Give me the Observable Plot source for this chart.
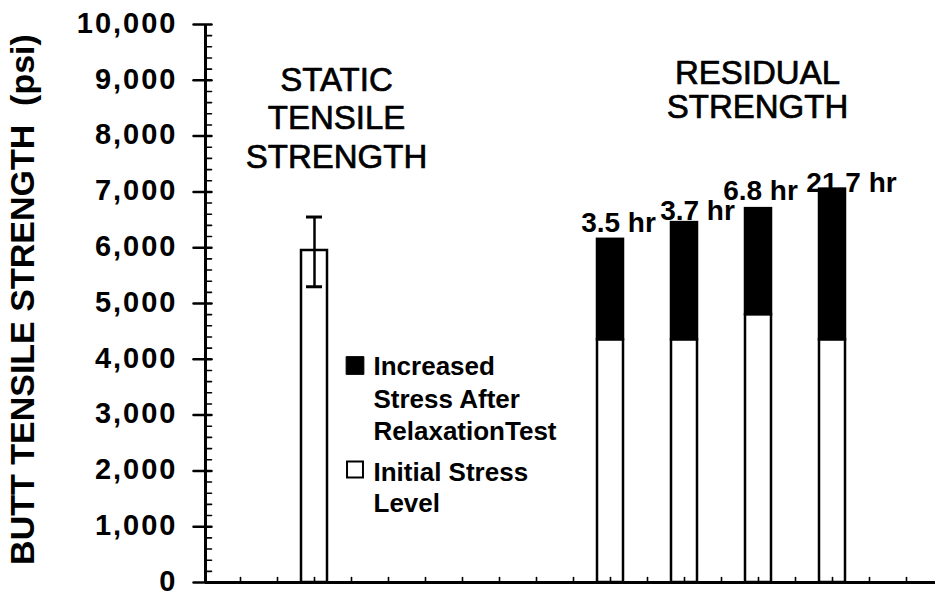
<!DOCTYPE html>
<html><head><meta charset="utf-8">
<script src="https://cdn.jsdelivr.net/npm/d3@7"></script>
<script src="https://cdn.jsdelivr.net/npm/@observablehq/plot@0.6"></script>
<style>
html,body{margin:0;padding:0;background:#fff;overflow:hidden}
#chart svg{display:block}
#chart svg g[aria-label="y-axis tick label"] text{letter-spacing:2px}
</style></head><body><div id="chart"></div>
<script>
// ---- data ----
const categories = ["blank0", "Static", "blank2", "blank3", "blank4", "3.5 hr", "3.7 hr", "6.8 hr", "21.7 hr", "blank9"];
const staticCategory = ["Static"];
const staticMean = [5950];
const staticLow = [5300];
const staticHigh = [6550];
const residualLabels = ["3.5 hr", "3.7 hr", "6.8 hr", "21.7 hr"];
const initialStress = [4350, 4350, 4800, 4350];
const totalStress = [6150, 6450, 6700, 7050];
const yTickValues = [0, 1000, 2000, 3000, 4000, 5000, 6000, 7000, 8000, 9000, 10000];
const headings = ["STATIC\nTENSILE\nSTRENGTH", "RESIDUAL\nSTRENGTH"];
const legendLabels = ["Increased\nStress After\nRelaxationTest", "Initial Stress\nLevel"];
const yLabel = "BUTT TENSILE STRENGTH\u00a0 (psi)";

// ---- tables built from the arrays ----
const residual = residualLabels.map((c, i) => ({cat: c, initial: initialStress[i], total: totalStress[i]}));
const staticRows = staticCategory.map((c, i) => ({cat: c, mean: staticMean[i], low: staticLow[i], high: staticHigh[i]}));
const staticCaps = staticRows.flatMap(d => [{cat: d.cat, v: d.low}, {cat: d.cat, v: d.high}]);
const yMinor = d3.range(0, 10001, 200).filter(v => v % 1000 !== 0);

// ---- layout ----
const W = 935, H = 594;
const mLeft = 205, mTop = 24, mBottom = 12;
const xRange = [203, 943];
const step = (xRange[1] - xRange[0]) / categories.length;
const font = "Liberation Sans, Arial, Helvetica, sans-serif";
const tickShape = {draw(context, l) { context.moveTo(0, 0); context.lineTo(0, -l); }};
// per-label nudges of the duration labels (pixels)
const labelNudge = [[8, -7], [13, -3], [2, -9], [19, 3]];

const chart = Plot.plot({
  width: W, height: H,
  marginLeft: mLeft, marginRight: 0, marginTop: mTop, marginBottom: mBottom,
  style: {fontFamily: font, background: "white", color: "black"},
  x: {type: "band", domain: categories, range: xRange, paddingInner: 0.65, paddingOuter: 0.325, axis: null},
  y: {domain: [0, 10000], axis: null, label: null},
  marks: [
    // residual strength stacked bars
    Plot.barY(residual, {x: "cat", y1: 0, y2: "initial", fill: "white", stroke: "black", strokeWidth: 2.5}),
    Plot.barY(residual, {x: "cat", y1: "initial", y2: "total", fill: "black", stroke: "black", strokeWidth: 2.5}),
    // static bar + error bar
    Plot.barY(staticRows, {x: "cat", y1: 0, y2: "mean", fill: "white", stroke: "black", strokeWidth: 2.5}),
    Plot.ruleX(staticRows, {x: "cat", y1: "low", y2: "high", stroke: "black", strokeWidth: 2.5}),
    Plot.tickY(staticCaps, {x: "cat", y: "v", stroke: "black", strokeWidth: 3, insetLeft: 5, insetRight: 5}),
    // bar labels
    ...residual.map((d, i) => Plot.text([d], {x: "cat", y: "total", text: "cat",
      dx: labelNudge[i][0], dy: labelNudge[i][1], lineAnchor: "bottom",
      fontSize: 28, fontWeight: "bold", fontFamily: font, fill: "black"})),
    // axes lines
    Plot.ruleY([0], {stroke: "black", strokeWidth: 3}),
    Plot.ruleX([categories[0]], {x: d => d, dx: mLeft - (xRange[0] + step / 2), stroke: "black", strokeWidth: 3}),
    // y ticks
    Plot.vectorY(yTickValues, {frameAnchor: "left", dx: 6, length: 18, rotate: -90, anchor: "start",
      shape: tickShape, stroke: "black", fill: "none", strokeWidth: 2.5}),
    Plot.vectorY(yMinor, {frameAnchor: "left", length: 6, rotate: 90, anchor: "start",
      shape: tickShape, stroke: "black", fill: "none", strokeWidth: 1.6}),
    // x ticks (band centres and band boundaries)
    Plot.vector(categories, {x: d => d, frameAnchor: "bottom", length: 5, rotate: 0, anchor: "start",
      shape: tickShape, stroke: "black", fill: "none", strokeWidth: 1.6}),
    Plot.vector(categories, {x: d => d, frameAnchor: "bottom", dx: step / 2, length: 5, rotate: 0, anchor: "start",
      shape: tickShape, stroke: "black", fill: "none", strokeWidth: 1.6}),
    // y tick labels
    Plot.axisY(yTickValues, {tickSize: 0, tickPadding: 28, tickFormat: d3.format(","), fontSize: 29,
      fontWeight: "bold", fontFamily: font, label: null, fill: "black", dy: -1}),
    // y axis title
    Plot.text([yLabel], {text: d => d, frameAnchor: "left", dx: 23 - mLeft, dy: -4, rotate: -90,
      textAnchor: "middle", lineAnchor: "middle", fontSize: 34, fontWeight: "bold", fontFamily: font, fill: "black"}),
    // headings
    Plot.text([headings[0]], {text: d => d, frameAnchor: "top-left", dx: 336 - mLeft, dy: 63 - mTop,
      textAnchor: "middle", lineAnchor: "top", fontSize: 33, lineHeight: 1.167, fontFamily: font,
      fill: "black", stroke: "black", strokeWidth: 0.7}),
    Plot.text([headings[1]], {text: d => d, frameAnchor: "top-left", dx: 757 - mLeft, dy: 60 - mTop,
      textAnchor: "middle", lineAnchor: "top", fontSize: 33, lineHeight: 1.02, fontFamily: font,
      fill: "black", stroke: "black", strokeWidth: 0.7}),
    // legend
    Plot.dot([legendLabels[0]], {frameAnchor: "top-left", dx: 354.5 - mLeft, dy: 365 - mTop, symbol: "square",
      r: 10, fill: "black", stroke: "black", strokeWidth: 1}),
    Plot.dot([legendLabels[1]], {frameAnchor: "top-left", dx: 354.5 - mLeft, dy: 469 - mTop, symbol: "square",
      r: 9, fill: "white", stroke: "black", strokeWidth: 2}),
    Plot.text([legendLabels[0]], {text: d => d, frameAnchor: "top-left", dx: 373 - mLeft, dy: 352 - mTop,
      textAnchor: "start", lineAnchor: "top", fontSize: 26, fontWeight: "bold", lineHeight: 1.24, fontFamily: font,
      fill: "black"}),
    Plot.text([legendLabels[1]], {text: d => d, frameAnchor: "top-left", dx: 373 - mLeft, dy: 458 - mTop,
      textAnchor: "start", lineAnchor: "top", fontSize: 26, fontWeight: "bold", lineHeight: 1.2, fontFamily: font,
      fill: "black"})
  ]
});
document.getElementById("chart").append(chart);
</script>
</body></html>
